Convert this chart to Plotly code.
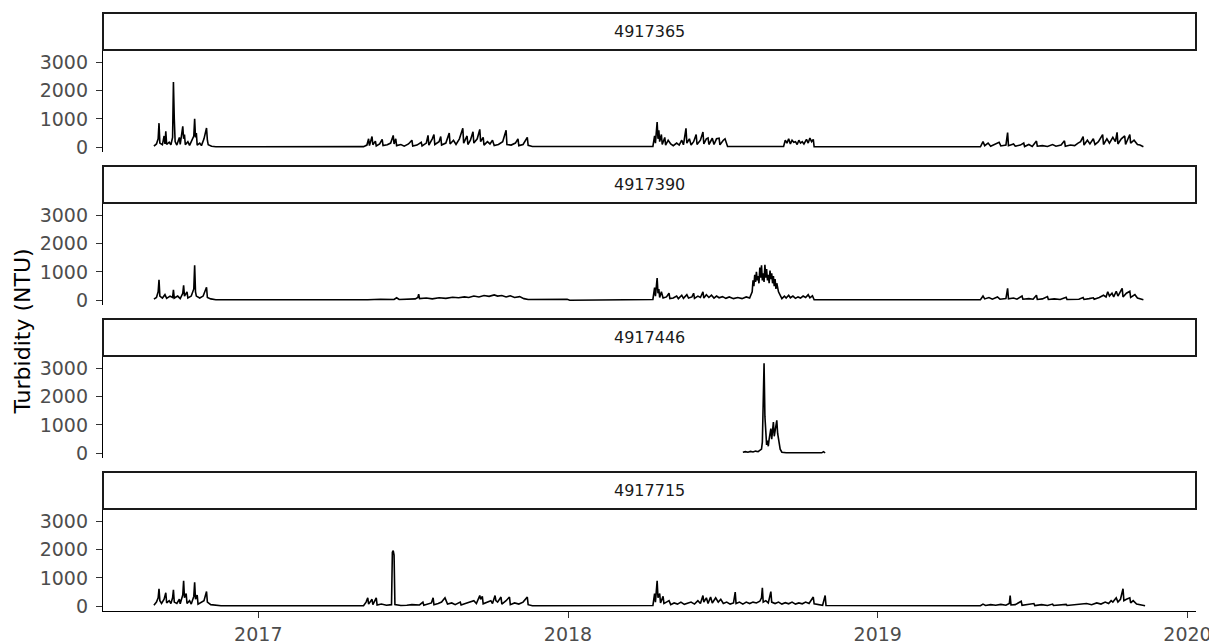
import plotly.graph_objects as go
from plotly.subplots import make_subplots

stations = ["4917365", "4917390", "4917446", "4917715"]

st_4917365 = [
    ("2016-08-31", 40), ("2016-09-03", 120), ("2016-09-05", 300), ("2016-09-06", 850), ("2016-09-07", 150),
    ("2016-09-10", 90), ("2016-09-12", 400), ("2016-09-13", 120), ("2016-09-14", 560), ("2016-09-15", 100),
    ("2016-09-18", 180), ("2016-09-20", 90), ("2016-09-22", 350), ("2016-09-23", 2300), ("2016-09-24", 1000),
    ("2016-09-25", 200), ("2016-09-27", 80), ("2016-09-30", 350), ("2016-10-01", 100), ("2016-10-04", 740),
    ("2016-10-05", 300), ("2016-10-06", 450), ("2016-10-07", 90), ("2016-10-10", 200), ("2016-10-12", 70),
    ("2016-10-15", 250), ("2016-10-17", 400), ("2016-10-18", 1000), ("2016-10-19", 350), ("2016-10-20", 500),
    ("2016-10-21", 80), ("2016-10-24", 150), ("2016-10-26", 60), ("2016-10-29", 300), ("2016-11-01", 680),
    ("2016-11-02", 250), ("2016-11-03", 90), ("2016-11-07", 40), ("2016-11-12", 20),
    ("2017-05-05", 25), ("2017-05-09", 80), ("2017-05-11", 300), ("2017-05-12", 60), ("2017-05-15", 380),
    ("2017-05-16", 90), ("2017-05-19", 220), ("2017-05-20", 50), ("2017-05-24", 120), ("2017-05-27", 280),
    ("2017-05-28", 60), ("2017-06-02", 90), ("2017-06-06", 150), ("2017-06-09", 420), ("2017-06-10", 120),
    ("2017-06-12", 300), ("2017-06-13", 60), ("2017-06-18", 100), ("2017-06-22", 40), ("2017-06-27", 120),
    ("2017-07-01", 250), ("2017-07-02", 50), ("2017-07-07", 80), ("2017-07-12", 180), ("2017-07-13", 50),
    ("2017-07-18", 150), ("2017-07-20", 420), ("2017-07-21", 80), ("2017-07-25", 300), ("2017-07-27", 450),
    ("2017-07-28", 100), ("2017-08-02", 200), ("2017-08-04", 380), ("2017-08-05", 80), ("2017-08-10", 150),
    ("2017-08-14", 500), ("2017-08-15", 120), ("2017-08-19", 250), ("2017-08-22", 100), ("2017-08-26", 300),
    ("2017-08-30", 670), ("2017-08-31", 150), ("2017-09-04", 400), ("2017-09-05", 100), ("2017-09-08", 250),
    ("2017-09-11", 550), ("2017-09-12", 150), ("2017-09-16", 300), ("2017-09-19", 630), ("2017-09-20", 200),
    ("2017-09-23", 350), ("2017-09-24", 80), ("2017-09-28", 200), ("2017-10-01", 120), ("2017-10-04", 250),
    ("2017-10-06", 60), ("2017-10-11", 100), ("2017-10-16", 200), ("2017-10-20", 600), ("2017-10-21", 100),
    ("2017-10-26", 80), ("2017-10-31", 150), ("2017-11-03", 300), ("2017-11-04", 60), ("2017-11-09", 100),
    ("2017-11-14", 350), ("2017-11-15", 70), ("2017-11-20", 30),
    ("2018-04-11", 30), ("2018-04-13", 400), ("2018-04-14", 150), ("2018-04-16", 890), ("2018-04-17", 300),
    ("2018-04-18", 600), ("2018-04-19", 200), ("2018-04-21", 450), ("2018-04-22", 100), ("2018-04-25", 350),
    ("2018-04-26", 80), ("2018-04-29", 250), ("2018-05-02", 120), ("2018-05-05", 60), ("2018-05-09", 150),
    ("2018-05-12", 80), ("2018-05-15", 250), ("2018-05-17", 90), ("2018-05-20", 670), ("2018-05-21", 150),
    ("2018-05-24", 300), ("2018-05-26", 80), ("2018-05-29", 200), ("2018-06-01", 450), ("2018-06-02", 100),
    ("2018-06-06", 250), ("2018-06-09", 540), ("2018-06-10", 120), ("2018-06-13", 300), ("2018-06-15", 330),
    ("2018-06-16", 100), ("2018-06-20", 320), ("2018-06-22", 100), ("2018-06-25", 300), ("2018-06-28", 320),
    ("2018-06-29", 90), ("2018-07-03", 250), ("2018-07-05", 300), ("2018-07-08", 30),
    ("2018-09-12", 30), ("2018-09-14", 250), ("2018-09-16", 150), ("2018-09-18", 300), ("2018-09-20", 120),
    ("2018-09-22", 250), ("2018-09-24", 180), ("2018-09-26", 200), ("2018-09-28", 100), ("2018-09-30", 250),
    ("2018-10-02", 150), ("2018-10-04", 200), ("2018-10-06", 120), ("2018-10-09", 280), ("2018-10-11", 150),
    ("2018-10-13", 330), ("2018-10-15", 200), ("2018-10-17", 280), ("2018-10-18", 20),
    ("2019-05-02", 20), ("2019-05-05", 200), ("2019-05-07", 60), ("2019-05-11", 150), ("2019-05-14", 40),
    ("2019-05-19", 100), ("2019-05-24", 180), ("2019-05-26", 50), ("2019-06-01", 80), ("2019-06-03", 520),
    ("2019-06-04", 60), ("2019-06-10", 120), ("2019-06-12", 40), ("2019-06-18", 80), ("2019-06-22", 150),
    ("2019-06-23", 30), ("2019-06-28", 100), ("2019-07-02", 30), ("2019-07-07", 220), ("2019-07-08", 40),
    ("2019-07-14", 60), ("2019-07-20", 30), ("2019-07-26", 100), ("2019-07-30", 40), ("2019-08-05", 80),
    ("2019-08-09", 230), ("2019-08-10", 40), ("2019-08-16", 80), ("2019-08-21", 60), ("2019-08-25", 150),
    ("2019-08-28", 200), ("2019-08-31", 380), ("2019-09-01", 80), ("2019-09-05", 250), ("2019-09-08", 120),
    ("2019-09-12", 300), ("2019-09-14", 100), ("2019-09-18", 200), ("2019-09-23", 450), ("2019-09-24", 100),
    ("2019-09-28", 300), ("2019-10-01", 150), ("2019-10-05", 350), ("2019-10-08", 200), ("2019-10-10", 530),
    ("2019-10-11", 120), ("2019-10-15", 300), ("2019-10-19", 400), ("2019-10-20", 100), ("2019-10-25", 450),
    ("2019-10-26", 150), ("2019-10-30", 250), ("2019-11-03", 100), ("2019-11-06", 80), ("2019-11-10", 20),
]

st_4917390 = [
    ("2016-08-31", 40), ("2016-09-03", 100), ("2016-09-05", 300), ("2016-09-06", 720), ("2016-09-07", 150),
    ("2016-09-10", 80), ("2016-09-13", 200), ("2016-09-15", 70), ("2016-09-19", 150), ("2016-09-22", 100),
    ("2016-09-23", 370), ("2016-09-24", 80), ("2016-09-28", 150), ("2016-10-01", 60), ("2016-10-04", 250),
    ("2016-10-05", 530), ("2016-10-06", 150), ("2016-10-09", 300), ("2016-10-10", 80), ("2016-10-14", 150),
    ("2016-10-17", 400), ("2016-10-18", 1230), ("2016-10-19", 300), ("2016-10-20", 150), ("2016-10-24", 80),
    ("2016-10-28", 150), ("2016-11-01", 460), ("2016-11-02", 100), ("2016-11-06", 50), ("2016-11-12", 20),
    ("2017-05-10", 20), ("2017-05-25", 40), ("2017-06-10", 30), ("2017-06-13", 90), ("2017-06-16", 30),
    ("2017-07-05", 50), ("2017-07-08", 100), ("2017-07-09", 220), ("2017-07-10", 60), ("2017-07-18", 80),
    ("2017-07-25", 50), ("2017-08-02", 90), ("2017-08-10", 70), ("2017-08-18", 110), ("2017-08-25", 90),
    ("2017-09-01", 120), ("2017-09-06", 100), ("2017-09-12", 150), ("2017-09-18", 120), ("2017-09-24", 170),
    ("2017-09-30", 140), ("2017-10-06", 190), ("2017-10-10", 150), ("2017-10-15", 170), ("2017-10-20", 120),
    ("2017-10-25", 160), ("2017-10-30", 100), ("2017-11-05", 130), ("2017-11-10", 60), ("2017-11-15", 30),
    ("2017-12-31", 35), ("2018-01-03", 5),
    ("2018-04-11", 30), ("2018-04-13", 450), ("2018-04-14", 150), ("2018-04-16", 780), ("2018-04-17", 250),
    ("2018-04-18", 400), ("2018-04-19", 100), ("2018-04-21", 300), ("2018-04-23", 80), ("2018-04-27", 120),
    ("2018-04-30", 250), ("2018-05-01", 60), ("2018-05-05", 80), ("2018-05-09", 150), ("2018-05-11", 60),
    ("2018-05-15", 180), ("2018-05-17", 70), ("2018-05-21", 200), ("2018-05-23", 80), ("2018-05-27", 120),
    ("2018-05-29", 250), ("2018-05-30", 70), ("2018-06-03", 150), ("2018-06-06", 100), ("2018-06-09", 300),
    ("2018-06-10", 80), ("2018-06-13", 200), ("2018-06-16", 100), ("2018-06-19", 180), ("2018-06-22", 80),
    ("2018-06-25", 150), ("2018-06-28", 90), ("2018-07-02", 130), ("2018-07-06", 70), ("2018-07-10", 120),
    ("2018-07-15", 60), ("2018-07-20", 100), ("2018-07-25", 60), ("2018-07-30", 120), ("2018-08-03", 80),
    ("2018-08-06", 300), ("2018-08-07", 700), ("2018-08-08", 500), ("2018-08-09", 900), ("2018-08-10", 650),
    ("2018-08-11", 1000), ("2018-08-12", 700), ("2018-08-13", 850), ("2018-08-14", 600), ("2018-08-15", 1150),
    ("2018-08-16", 800), ("2018-08-17", 1230), ("2018-08-18", 700), ("2018-08-19", 950), ("2018-08-20", 650),
    ("2018-08-21", 1250), ("2018-08-22", 800), ("2018-08-23", 1100), ("2018-08-24", 700), ("2018-08-25", 900),
    ("2018-08-26", 600), ("2018-08-27", 1050), ("2018-08-28", 750), ("2018-08-29", 950), ("2018-08-30", 600),
    ("2018-08-31", 850), ("2018-09-01", 500), ("2018-09-02", 750), ("2018-09-03", 400), ("2018-09-04", 600),
    ("2018-09-06", 300), ("2018-09-08", 150), ("2018-09-10", 60), ("2018-09-13", 150), ("2018-09-15", 80),
    ("2018-09-18", 180), ("2018-09-20", 90), ("2018-09-23", 150), ("2018-09-26", 70), ("2018-09-29", 120),
    ("2018-10-02", 80), ("2018-10-05", 150), ("2018-10-08", 100), ("2018-10-11", 200), ("2018-10-13", 90),
    ("2018-10-16", 160), ("2018-10-18", 20),
    ("2019-05-02", 20), ("2019-05-05", 150), ("2019-05-07", 50), ("2019-05-12", 100), ("2019-05-16", 40),
    ("2019-05-22", 120), ("2019-05-25", 40), ("2019-06-01", 60), ("2019-06-03", 420), ("2019-06-04", 50),
    ("2019-06-10", 80), ("2019-06-14", 40), ("2019-06-20", 150), ("2019-06-21", 40), ("2019-06-28", 60),
    ("2019-07-03", 40), ("2019-07-07", 180), ("2019-07-08", 30), ("2019-07-14", 50), ("2019-07-20", 130),
    ("2019-07-21", 30), ("2019-07-28", 50), ("2019-08-04", 30), ("2019-08-11", 110), ("2019-08-12", 30),
    ("2019-08-20", 50), ("2019-08-26", 40), ("2019-08-31", 100), ("2019-09-01", 30), ("2019-09-07", 60),
    ("2019-09-12", 90), ("2019-09-13", 40), ("2019-09-19", 100), ("2019-09-24", 180), ("2019-09-27", 120),
    ("2019-09-29", 300), ("2019-10-01", 150), ("2019-10-04", 250), ("2019-10-06", 120), ("2019-10-09", 320),
    ("2019-10-11", 150), ("2019-10-16", 420), ("2019-10-17", 120), ("2019-10-21", 250), ("2019-10-25", 320),
    ("2019-10-26", 100), ("2019-10-31", 200), ("2019-11-03", 80), ("2019-11-07", 60), ("2019-11-10", 20),
]

st_4917446 = [
    ("2018-07-26", 40), ("2018-07-29", 60), ("2018-08-01", 40), ("2018-08-04", 70), ("2018-08-07", 50),
    ("2018-08-10", 80), ("2018-08-13", 60), ("2018-08-15", 90), ("2018-08-17", 150), ("2018-08-18", 400),
    ("2018-08-19", 1500), ("2018-08-20", 3170), ("2018-08-21", 1300), ("2018-08-22", 600), ("2018-08-23", 300),
    ("2018-08-24", 450), ("2018-08-25", 250), ("2018-08-26", 500), ("2018-08-27", 700), ("2018-08-28", 870),
    ("2018-08-29", 500), ("2018-08-30", 750), ("2018-08-31", 1100), ("2018-09-01", 600), ("2018-09-02", 800),
    ("2018-09-03", 1000), ("2018-09-04", 1160), ("2018-09-05", 700), ("2018-09-06", 500), ("2018-09-07", 300),
    ("2018-09-08", 150), ("2018-09-10", 40), ("2018-09-15", 20), ("2018-10-27", 20), ("2018-10-29", 60),
    ("2018-10-31", 20),
]

st_4917715 = [
    ("2016-08-31", 40), ("2016-09-03", 150), ("2016-09-05", 300), ("2016-09-06", 620), ("2016-09-07", 200),
    ("2016-09-09", 100), ("2016-09-12", 250), ("2016-09-14", 480), ("2016-09-15", 120), ("2016-09-18", 200),
    ("2016-09-20", 100), ("2016-09-22", 300), ("2016-09-23", 580), ("2016-09-24", 150), ("2016-09-27", 100),
    ("2016-09-30", 250), ("2016-10-01", 90), ("2016-10-04", 400), ("2016-10-05", 900), ("2016-10-06", 300),
    ("2016-10-08", 450), ("2016-10-09", 100), ("2016-10-12", 200), ("2016-10-14", 80), ("2016-10-17", 350),
    ("2016-10-18", 850), ("2016-10-19", 250), ("2016-10-21", 400), ("2016-10-22", 80), ("2016-10-26", 150),
    ("2016-10-29", 200), ("2016-11-01", 520), ("2016-11-02", 150), ("2016-11-06", 60), ("2016-11-12", 30),
    ("2016-11-18", 20),
    ("2017-05-05", 20), ("2017-05-08", 150), ("2017-05-10", 300), ("2017-05-11", 80), ("2017-05-15", 250),
    ("2017-05-16", 60), ("2017-05-20", 300), ("2017-05-21", 50), ("2017-05-26", 80), ("2017-06-01", 40),
    ("2017-06-07", 60), ("2017-06-08", 1900), ("2017-06-09", 1960), ("2017-06-10", 1800), ("2017-06-11", 60),
    ("2017-06-18", 30), ("2017-06-25", 40), ("2017-07-01", 60), ("2017-07-10", 50), ("2017-07-14", 150),
    ("2017-07-15", 40), ("2017-07-20", 80), ("2017-07-24", 120), ("2017-07-26", 300), ("2017-07-27", 60),
    ("2017-08-01", 100), ("2017-08-05", 150), ("2017-08-09", 300), ("2017-08-10", 200), ("2017-08-12", 80),
    ("2017-08-17", 120), ("2017-08-21", 60), ("2017-08-27", 150), ("2017-08-28", 50), ("2017-09-02", 100),
    ("2017-09-08", 150), ("2017-09-12", 200), ("2017-09-15", 100), ("2017-09-19", 380), ("2017-09-20", 250),
    ("2017-09-22", 350), ("2017-09-23", 90), ("2017-09-28", 150), ("2017-10-02", 200), ("2017-10-04", 100),
    ("2017-10-07", 380), ("2017-10-08", 200), ("2017-10-10", 150), ("2017-10-14", 330), ("2017-10-15", 80),
    ("2017-10-20", 200), ("2017-10-24", 330), ("2017-10-25", 60), ("2017-10-30", 120), ("2017-11-04", 80),
    ("2017-11-09", 150), ("2017-11-14", 330), ("2017-11-15", 60), ("2017-11-20", 20),
    ("2018-04-11", 30), ("2018-04-13", 450), ("2018-04-14", 150), ("2018-04-16", 900), ("2018-04-17", 300),
    ("2018-04-19", 450), ("2018-04-20", 120), ("2018-04-23", 350), ("2018-04-24", 100), ("2018-04-27", 150),
    ("2018-04-30", 200), ("2018-05-02", 60), ("2018-05-06", 120), ("2018-05-10", 80), ("2018-05-14", 150),
    ("2018-05-18", 70), ("2018-05-22", 120), ("2018-05-26", 150), ("2018-05-30", 80), ("2018-06-03", 200),
    ("2018-06-06", 100), ("2018-06-09", 380), ("2018-06-10", 150), ("2018-06-13", 300), ("2018-06-15", 100),
    ("2018-06-18", 330), ("2018-06-20", 120), ("2018-06-24", 300), ("2018-06-27", 150), ("2018-06-30", 250),
    ("2018-07-03", 100), ("2018-07-07", 150), ("2018-07-11", 80), ("2018-07-15", 120), ("2018-07-17", 500),
    ("2018-07-18", 100), ("2018-07-22", 150), ("2018-07-26", 80), ("2018-07-30", 150), ("2018-08-03", 100),
    ("2018-08-07", 150), ("2018-08-11", 120), ("2018-08-15", 180), ("2018-08-17", 300), ("2018-08-18", 650),
    ("2018-08-19", 150), ("2018-08-22", 200), ("2018-08-25", 120), ("2018-08-28", 520), ("2018-08-29", 150),
    ("2018-09-02", 100), ("2018-09-06", 150), ("2018-09-10", 80), ("2018-09-14", 130), ("2018-09-18", 90),
    ("2018-09-22", 150), ("2018-09-26", 80), ("2018-09-30", 120), ("2018-10-04", 90), ("2018-10-08", 150),
    ("2018-10-12", 100), ("2018-10-17", 330), ("2018-10-18", 90), ("2018-10-23", 60), ("2018-10-28", 40),
    ("2018-10-31", 380), ("2018-11-01", 30),
    ("2019-05-02", 20), ("2019-05-05", 80), ("2019-05-08", 30), ("2019-05-14", 60), ("2019-05-20", 40),
    ("2019-05-26", 70), ("2019-06-01", 40), ("2019-06-05", 100), ("2019-06-06", 380), ("2019-06-07", 50),
    ("2019-06-12", 60), ("2019-06-19", 180), ("2019-06-20", 40), ("2019-06-27", 60), ("2019-07-04", 100),
    ("2019-07-05", 30), ("2019-07-13", 60), ("2019-07-20", 30), ("2019-07-26", 80), ("2019-07-27", 30),
    ("2019-08-04", 40), ("2019-08-11", 70), ("2019-08-12", 30), ("2019-08-20", 60), ("2019-08-28", 80),
    ("2019-09-04", 100), ("2019-09-10", 60), ("2019-09-16", 120), ("2019-09-21", 80), ("2019-09-26", 150),
    ("2019-09-30", 100), ("2019-10-03", 200), ("2019-10-05", 150), ("2019-10-07", 250), ("2019-10-09", 300),
    ("2019-10-11", 150), ("2019-10-14", 250), ("2019-10-17", 620), ("2019-10-18", 200), ("2019-10-21", 250),
    ("2019-10-25", 300), ("2019-10-26", 120), ("2019-10-29", 200), ("2019-11-02", 80), ("2019-11-07", 50),
    ("2019-11-12", 20),
]

y_ticks = [0, 1000, 2000, 3000]
x_ticks = ["2017-01-01", "2018-01-01", "2019-01-01", "2020-01-01"]
x_tick_labels = ["2017", "2018", "2019", "2020"]
y_title = "Turbidity (NTU)"

series = [st_4917365, st_4917390, st_4917446, st_4917715]

fig = make_subplots(rows=4, cols=1, shared_xaxes=True)

for i, data in enumerate(series):
    dates = [d for d, _ in data]
    vals = [v for _, v in data]
    fig.add_trace(
        go.Scatter(x=dates, y=vals, mode="lines", line=dict(color="black", width=1.6),
                   showlegend=False, hoverinfo="x+y"),
        row=i + 1, col=1,
    )

# panel geometry (paper coords)
panels = [(0.7663, 0.9366), (0.5109, 0.6811), (0.2554, 0.4257), (0.0, 0.1703)]
strip_h = 0.0618

tick_font = dict(family="DejaVu Sans", size=19, color="#4D4D4D")

for i, (y0, y1) in enumerate(panels):
    yname = "yaxis" if i == 0 else f"yaxis{i + 1}"
    xname = "xaxis" if i == 0 else f"xaxis{i + 1}"
    fig.layout[yname].update(
        domain=[y0, y1], range=[-163, 3423], tickvals=y_ticks, ticktext=[str(t) for t in y_ticks],
        showgrid=False, zeroline=False, showline=True, linecolor="black", linewidth=1.3,
        ticks="outside", ticklen=6, tickcolor="#333333", tickwidth=1.1, tickfont=tick_font,
        ticklabelstandoff=4, automargin=False,
    )
    last = i == 3
    fig.layout[xname].update(
        type="date", range=["2016-07-02", "2020-01-11"], showgrid=False, zeroline=False,
        showline=last, linecolor="black", linewidth=1.3,
        ticks="outside" if last else "", ticklen=6, tickcolor="#333333", tickwidth=1.1,
        tickvals=x_ticks, ticktext=x_tick_labels, showticklabels=last, tickfont=tick_font,
        automargin=False,
    )
    # strip
    fig.add_shape(type="rect", xref="paper", yref="paper", x0=0, x1=1, y0=y1, y1=y1 + strip_h,
                  line=dict(color="#1A1A1A", width=2), fillcolor="white", layer="above")
    fig.add_annotation(text=stations[i], xref="paper", yref="paper", x=0.5, y=y1 + strip_h / 2,
                       showarrow=False, xanchor="center", yanchor="middle",
                       font=dict(family="DejaVu Sans", size=16, color="#1A1A1A"))

fig.add_annotation(text=y_title, xref="paper", yref="paper", x=-0.0737, y=0.4674, textangle=-90,
                   showarrow=False, xanchor="center", yanchor="middle",
                   font=dict(family="DejaVu Sans", size=22, color="black"))

# the page body adds an 8px offset; size the figure so the plot area lands where the reference has it
fig.update_layout(
    template="none",
    width=1209, height=636, margin=dict(l=95, r=21, t=4, b=33, autoexpand=False),
    plot_bgcolor="white", paper_bgcolor="white", showlegend=False,
)

fig.write_html("out.html")
